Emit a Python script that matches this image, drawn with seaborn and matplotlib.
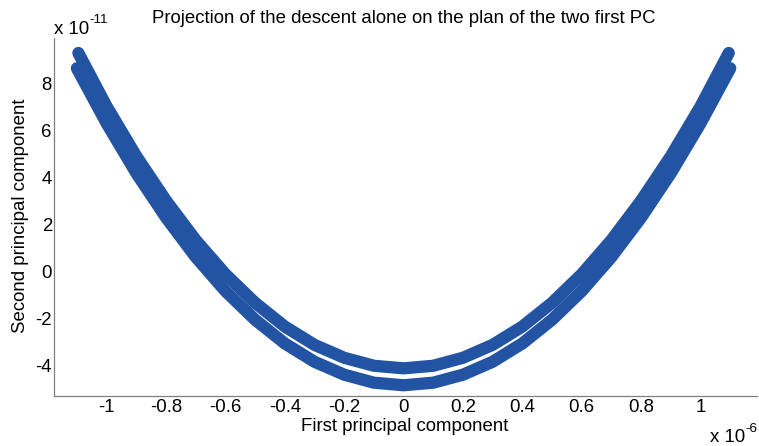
import pandas as pd
import matplotlib
matplotlib.use("Agg")
import matplotlib.pyplot as plt
import seaborn as sns

# values, PC1 in units of 1e-6, PC2 in units of 1e-11
pc1_upper = [-1.095, -1.0, -0.9, -0.8, -0.7, -0.6, -0.5, -0.4, -0.3, -0.2, -0.1, 0.0,
             0.1, 0.2, 0.3, 0.4, 0.5, 0.6, 0.7, 0.8, 0.9, 1.0, 1.095]
pc2_upper = [9.32, 7.05, 4.93, 3.04, 1.36, -0.09, -1.31, -2.32, -3.10, -3.65, -3.99, -4.10,
             -3.99, -3.65, -3.10, -2.32, -1.31, -0.09, 1.36, 3.04, 4.93, 7.05, 9.32]
pc1_lower = [-1.10, -1.0, -0.9, -0.8, -0.7, -0.6, -0.5, -0.4, -0.3, -0.2, -0.1, 0.0,
             0.1, 0.2, 0.3, 0.4, 0.5, 0.6, 0.7, 0.8, 0.9, 1.0, 1.10]
pc2_lower = [8.67, 6.33, 4.21, 2.32, 0.64, -0.81, -2.03, -3.04, -3.82, -4.37, -4.71, -4.82,
             -4.71, -4.37, -3.82, -3.04, -2.03, -0.81, 0.64, 2.32, 4.21, 6.33, 8.67]

xticks = [-1, -0.8, -0.6, -0.4, -0.2, 0, 0.2, 0.4, 0.6, 0.8, 1]
xtick_labels = ["-1", "-0.8", "-0.6", "-0.4", "-0.2", "0", "0.2", "0.4", "0.6", "0.8", "1"]
yticks = [-4, -2, 0, 2, 4, 6, 8]
ytick_labels = ["-4", "-2", "0", "2", "4", "6", "8"]

df = pd.concat([
    pd.DataFrame({"pc1": pc1_upper, "pc2": pc2_upper, "run": "a"}),
    pd.DataFrame({"pc1": pc1_lower, "pc2": pc2_lower, "run": "b"}),
])

sns.set_theme(style="white")
plt.rcParams["font.family"] = ["Liberation Sans", "DejaVu Sans"]
plt.rcParams["text.color"] = "black"

W, H = 759, 446
fig = plt.figure(figsize=(W / 100, H / 100), dpi=100)
ax = fig.add_axes([54 / W, 1 - 396 / H, (757 - 54) / W, (396 - 38) / H])

blue = "#2254A3"
sns.lineplot(data=df, x="pc1", y="pc2", units="run", estimator=None, sort=False,
             color=blue, linewidth=8.8, solid_capstyle="round", ax=ax)

ax.set_xlim(-1.177, 1.190)
ax.set_ylim(-5.277, 9.957)
ax.set_xticks(xticks, xtick_labels)
ax.set_yticks(yticks, ytick_labels)
ax.set_xlabel("")
ax.set_ylabel("")

gray = "#7f7f7f"
for s in ["top", "right"]:
    ax.spines[s].set_visible(False)
for s in ["left", "bottom"]:
    ax.spines[s].set_color(gray)
    ax.spines[s].set_linewidth(0.9)
ax.tick_params(direction="in", length=5, width=0.8, color=gray,
               labelsize=13.4, labelcolor="black", pad=1.5)
ax.tick_params(axis="x", pad=2.5)

fs = 13.4
sup = 9.7
fig.text(403.5 / W, 1 - 23 / H, "Projection of the descent alone on the plan of the two first PC",
         ha="center", va="baseline", fontsize=fs)
fig.text(404.5 / W, 1 - 431 / H, "First principal component",
         ha="center", va="baseline", fontsize=fs)
fig.text(21 / W, 1 - 216 / H, "Second principal component",
         ha="center", va="center", rotation=90, fontsize=fs)

# MATLAB style exponent labels
fig.text(54 / W, 1 - 34 / H, "x 10", ha="left", va="baseline", fontsize=fs)
fig.text(89 / W, 1 - 23 / H, "-11", ha="left", va="baseline", fontsize=sup)
fig.text(745 / W, 1 - 441.5 / H, "x 10", ha="right", va="baseline", fontsize=fs)
fig.text(757 / W, 1 - 431.5 / H, "-6", ha="right", va="baseline", fontsize=sup)

fig.savefig("out.png", dpi=100)
